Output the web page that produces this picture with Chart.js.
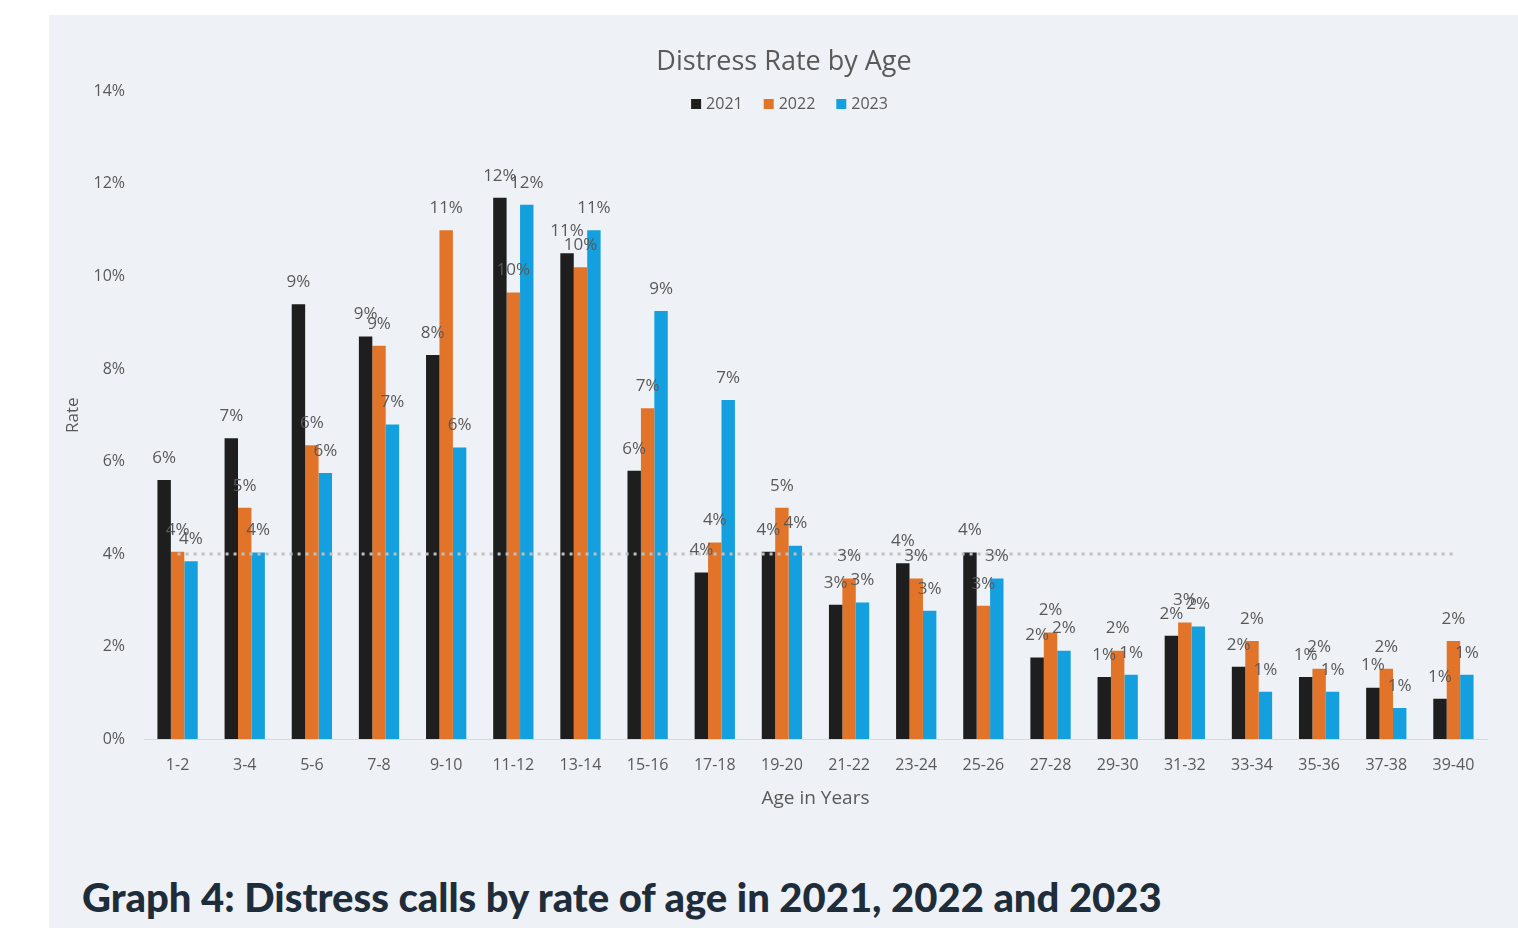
<!DOCTYPE html>
<html>
<head>
<meta charset="utf-8">
<script src="https://cdn.jsdelivr.net/npm/chart.js@4"></script>
<style>
  body { margin:0; background:#fff; width:1518px; height:928px; overflow:hidden; position:relative; }
  #panel { position:absolute; left:49px; top:15px; width:1469px; height:913px; background:#eef2f6; }
  #wrap { position:absolute; left:0; top:0; width:1469px; height:810px; }
  #caption { position:absolute; left:33px; top:858px; margin:0; font-family:Lato, sans-serif; font-weight:900;
    font-size:40px; color:#1f2d3b; white-space:nowrap; }
</style>
</head>
<body>
<div id="panel">
  <div id="wrap"><canvas id="myChart"></canvas></div>
  <p id="caption">Graph 4: Distress calls by rate of age in 2021, 2022 and 2023</p>
</div>
<script>
// age groups on the x axis
let ages=['1-2','3-4','5-6','7-8','9-10','11-12','13-14','15-16','17-18','19-20',
  '21-22','23-24','25-26','27-28','29-30','31-32','33-34','35-36','37-38','39-40']

// rate in %
let rate2021=[5.6,6.5,9.4,8.7,8.3,11.7,10.5,5.8,3.6,4.05,2.9,3.8,4.03,1.76,1.34,2.23,1.56,1.34,1.11,0.87]
let rate2022=[4.05,5.0,6.35,8.5,11.0,9.65,10.2,7.15,4.25,5.0,3.47,3.47,2.88,2.3,1.91,2.52,2.12,1.52,1.52,2.12]
let rate2023=[3.84,4.03,5.75,6.8,6.3,11.55,11.0,9.25,7.33,4.18,2.95,2.77,3.47,1.91,1.39,2.43,1.02,1.02,0.67,1.39]

// dotted reference line
let benchmark=4

let black='#1e1e1e'
let orange='#e2742a'
let blue='#14a0df'
let gray='#595959'
let font='"Open Sans", sans-serif'

// values above each bar
const barLabels={
  id:'barLabels',
  afterDatasetsDraw(chart){
    const c=chart.ctx
    c.save()
    c.font='17px '+font
    c.fillStyle=gray
    c.textAlign='center'
    c.textBaseline='middle'
    chart.data.datasets.forEach((ds,i)=>{
      if(ds.type==='line') return
      chart.getDatasetMeta(i).data.forEach((bar,j)=>{
        c.fillText(Math.round(ds.data[j])+'%',bar.x,bar.y-22)
      })
    })
    c.restore()
  }
}

// legend row just under the title, inside the plot
const topLegend={
  id:'topLegend',
  afterDraw(chart){
    const c=chart.ctx
    const items=chart.data.datasets.filter(d=>d.type==='bar')
    c.save()
    c.font='16px '+font
    c.textBaseline='middle'
    const box=10, gap=5, space=21
    let widths=items.map(d=>box+gap+c.measureText(d.label).width)
    let total=widths.reduce((a,b)=>a+b,0)+space*(items.length-1)
    let x=(chart.chartArea.left+chart.chartArea.right)/2-26-total/2
    const y=89
    items.forEach((d,k)=>{
      c.fillStyle=d.backgroundColor
      c.fillRect(x,y-box/2,box,box)
      c.fillStyle=gray
      c.fillText(d.label,x+box+gap,y)
      x+=widths[k]+space
    })
    c.restore()
  }
}

const ctx=document.getElementById('myChart')

let myChart=new Chart(ctx,{
  data:{
    labels:ages,
    datasets:[
      {type:'line',label:'avg',data:ages.map(()=>benchmark),borderColor:'#bfbfbf',borderWidth:3,
        borderDash:[3,5],pointRadius:0,fill:false},
      {type:'bar',label:'2021',data:rate2021,backgroundColor:black},
      {type:'bar',label:'2022',data:rate2022,backgroundColor:orange},
      {type:'bar',label:'2023',data:rate2023,backgroundColor:blue}
    ]
  },
  options:{
    responsive:true,
    maintainAspectRatio:false,
    animation:false,
    layout:{padding:{left:32,right:31,top:14,bottom:11}},
    datasets:{bar:{categoryPercentage:0.6,barPercentage:1.0}},
    plugins:{
      title:{display:true,text:'Distress Rate by Age',color:gray,
        font:{family:font,size:27,weight:'normal'},padding:{top:17,bottom:13}},
      legend:{display:false},
      tooltip:{enabled:false}
    },
    scales:{
      x:{
        grid:{display:false,drawTicks:false},
        border:{display:true,color:'#d9d9d9',width:1},
        ticks:{color:gray,font:{family:font,size:16},padding:17,maxRotation:0},
        title:{display:true,text:'Age in Years',color:gray,font:{family:font,size:19},padding:{top:-5}}
      },
      y:{
        min:0,max:14,
        grid:{display:false,drawTicks:false},
        border:{display:false},
        ticks:{stepSize:2,color:gray,font:{family:font,size:16},padding:19,
          callback:(v)=>v+'%'},
        title:{display:true,text:'Rate',color:gray,font:{family:font,size:17},padding:{top:-18}},
        afterFit(scale){scale.width=63}
      }
    }
  },
  plugins:[barLabels,topLegend]
})
</script>
</body>
</html>
